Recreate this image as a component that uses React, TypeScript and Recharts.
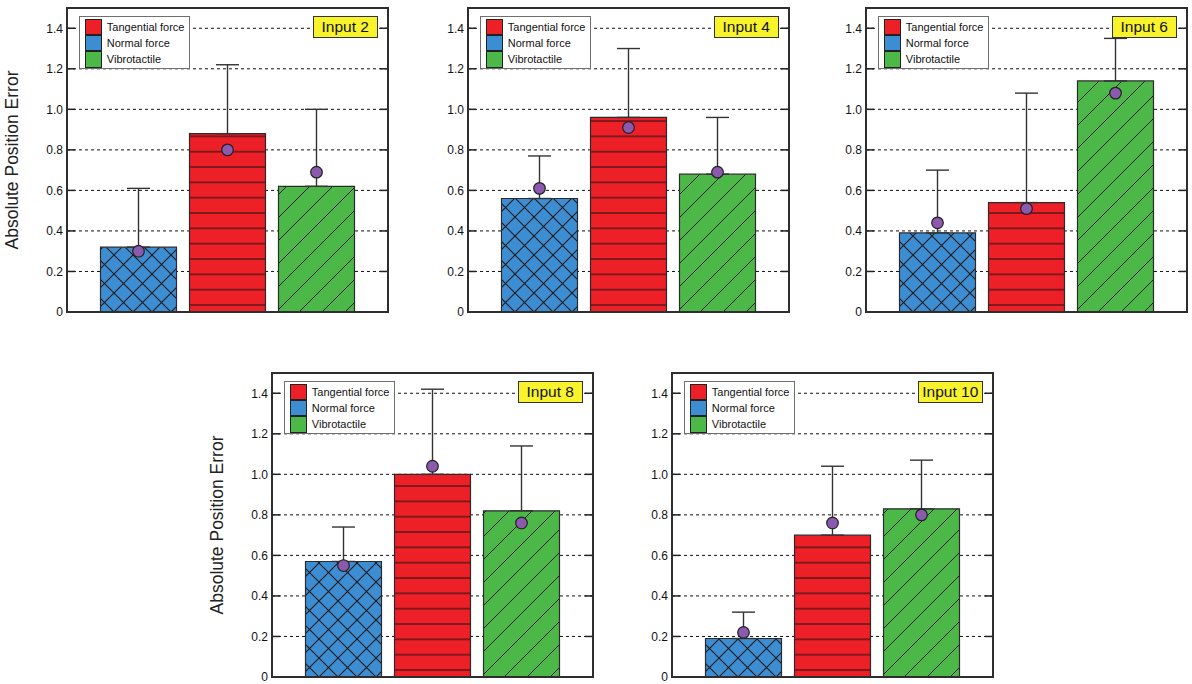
import React from 'react'
import {
  ComposedChart, Bar, Cell, ErrorBar, Line, XAxis, YAxis, CartesianGrid, Legend,
} from 'recharts'

// category order on the x axis
const categories = ['Normal force', 'Tangential force', 'Vibrotactile']
const legendNames = ['Tangential force', 'Normal force', 'Vibrotactile']
const yTicks = [0, 0.2, 0.4, 0.6, 0.8, 1.0, 1.2, 1.4]
const yTickLabels = ['0', '0.2', '0.4', '0.6', '0.8', '1.0', '1.2', '1.4']
const yTitle = 'Absolute Position Error'
const panelTitles = ['Input 2', 'Input 4', 'Input 6', 'Input 8', 'Input 10']

// bar height / purple marker / top of whisker, in category order
const input2Bars = [0.32, 0.88, 0.62]
const input2Dots = [0.30, 0.80, 0.69]
const input2Upper = [0.61, 1.22, 1.00]

const input4Bars = [0.56, 0.96, 0.68]
const input4Dots = [0.61, 0.91, 0.69]
const input4Upper = [0.77, 1.30, 0.96]

const input6Bars = [0.39, 0.54, 1.14]
const input6Dots = [0.44, 0.51, 1.08]
const input6Upper = [0.70, 1.08, 1.35]

const input8Bars = [0.57, 1.00, 0.82]
const input8Dots = [0.55, 1.04, 0.76]
const input8Upper = [0.74, 1.42, 1.14]

const input10Bars = [0.19, 0.70, 0.83]
const input10Dots = [0.22, 0.76, 0.80]
const input10Upper = [0.32, 1.04, 1.07]

const FONT = '"Liberation Sans", Arial, Helvetica, sans-serif'
const BLUE = '#3d8dd3'
const RED = '#ed1f27'
const GREEN = '#4cb848'
const PURPLE = '#8b59ad'
const INK = '#222'

const PLOT_W = 321
const PLOT_H = 304
const AXIS_W = 67
const M_TOP = 8
const M_RIGHT = 5
const M_BOTTOM = 8
const CHART_W = AXIS_W + PLOT_W + M_RIGHT
const CHART_H = M_TOP + PLOT_H + M_BOTTOM
const TICK_GAP = 4

const panels = [
  { title: panelTitles[0], bars: input2Bars, dots: input2Dots, upper: input2Upper, left: 0, top: 0, yTitle: true },
  { title: panelTitles[1], bars: input4Bars, dots: input4Dots, upper: input4Upper, left: 401, top: 0, yTitle: false },
  { title: panelTitles[2], bars: input6Bars, dots: input6Dots, upper: input6Upper, left: 799, top: 0, yTitle: false },
  { title: panelTitles[3], bars: input8Bars, dots: input8Dots, upper: input8Upper, left: 205, top: 365, yTitle: true },
  { title: panelTitles[4], bars: input10Bars, dots: input10Dots, upper: input10Upper, left: 605, top: 365, yTitle: false },
]

const legendColors = [RED, BLUE, GREEN]

function YTick(props: any) {
  const { x, y, payload } = props
  const label = yTickLabels[yTicks.indexOf(payload.value)] ?? String(payload.value)
  const ax = x + TICK_GAP
  return (
    <g>
      <text x={x} y={y} dy={4.3} textAnchor="end" fontSize={12} fill="#111" fontFamily={FONT}>
        {label}
      </text>
      {payload.value > 0 && (
        <>
          <line x1={ax} x2={ax + 8} y1={y} y2={y} stroke={INK} strokeWidth={1.5} />
          <line x1={ax + PLOT_W - 8} x2={ax + PLOT_W} y1={y} y2={y} stroke={INK} strokeWidth={1.5} />
        </>
      )}
    </g>
  )
}

function LegendBox() {
  return (
    <div
      style={{
        position: 'relative', width: 111, height: 53, boxSizing: 'border-box',
        background: '#fff', border: '1px solid #6f6f6f', fontFamily: FONT, fontSize: 11, color: '#111',
      }}
    >
      {legendNames.map((n, i) => (
        <div key={n} style={{ position: 'absolute', left: 5, top: 1.5 + i * 16.4, height: 16.4, display: 'flex', alignItems: 'center' }}>
          <span
            style={{
              display: 'inline-block', width: 16.5, height: 16.4, boxSizing: 'border-box',
              background: legendColors[i], border: `1.2px solid ${INK}`, marginRight: 5,
            }}
          />
          <span style={{ whiteSpace: 'nowrap' }}>{n}</span>
        </div>
      ))}
    </div>
  )
}

function Panel({ p, idx }: { p: typeof panels[number]; idx: number }) {
  const data = categories.map((c, i) => ({
    name: c,
    bar: p.bars[i],
    dot: p.dots[i],
    err: [0, +(p.upper[i] - p.bars[i]).toFixed(3)],
  }))
  const zeroY = M_TOP + PLOT_H
  const stripe = 15.33
  const fills = [`url(#hx-${idx})`, `url(#hz-${idx})`, `url(#dg-${idx})`]

  return (
    <div style={{ position: 'absolute', left: p.left, top: p.top, width: CHART_W, height: CHART_H }}>
      <ComposedChart
        width={CHART_W}
        height={CHART_H}
        data={data}
        margin={{ top: M_TOP, right: M_RIGHT, bottom: M_BOTTOM, left: 0 }}
        barCategoryGap={6.5}
      >
        <defs>
          <pattern id={`hx-${idx}`} patternUnits="userSpaceOnUse" width={19} height={19} x={0} y={zeroY}>
            <rect width={19} height={19} fill={BLUE} />
            <path d="M-2,-2 L21,21 M21,-2 L-2,21" stroke="#1a1a1a" strokeWidth={1.1} />
          </pattern>
          <pattern id={`hz-${idx}`} patternUnits="userSpaceOnUse" width={10} height={stripe} x={0} y={zeroY - 7 - stripe / 2}>
            <rect width={10} height={stripe} fill={RED} />
            <line x1={-1} x2={11} y1={stripe / 2} y2={stripe / 2} stroke="#3a1416" strokeWidth={1.2} />
          </pattern>
          <pattern id={`dg-${idx}`} patternUnits="userSpaceOnUse" width={23} height={23} x={0} y={zeroY}>
            <rect width={23} height={23} fill={GREEN} />
            <path d="M-2,25 L25,-2 M-6,6 L6,-6 M17,29 L29,17" stroke="#1a1a1a" strokeWidth={1} />
          </pattern>
        </defs>
        <CartesianGrid vertical={false} stroke="#111" strokeDasharray="3 3" strokeWidth={1} />
        <XAxis dataKey="name" type="category" hide padding={{ left: 27, right: 27 }} />
        <YAxis
          domain={[0, 1.5]}
          ticks={yTicks}
          interval={0}
          width={AXIS_W}
          axisLine={false}
          tickLine={false}
          tickSize={0}
          tickMargin={TICK_GAP}
          tick={<YTick />}
        />
        <Legend
          layout="vertical"
          align="center"
          verticalAlign="middle"
          wrapperStyle={{ left: AXIS_W + 12.3, top: M_TOP + 8, width: 'auto', height: 'auto' }}
          content={() => <LegendBox />}
        />
        <Bar dataKey="bar" isAnimationActive={false} stroke="#2b2b2b" strokeWidth={1.2}>
          {data.map((d, i) => (
            <Cell key={d.name} fill={fills[i]} stroke="#2b2b2b" strokeWidth={1.2} />
          ))}
          <ErrorBar dataKey="err" width={11.5} stroke="#333" strokeWidth={1.4} direction="y" />
        </Bar>
        <Line
          dataKey="dot"
          stroke="none"
          isAnimationActive={false}
          activeDot={false}
          dot={{ r: 5.8, fill: PURPLE, stroke: INK, strokeWidth: 1.2 }}
        />
      </ComposedChart>

      {/* plot frame */}
      <div
        style={{
          position: 'absolute', left: AXIS_W - 1, top: M_TOP - 1, width: PLOT_W + 2, height: PLOT_H + 2,
          border: '2px solid #2e2e2e', boxSizing: 'border-box', pointerEvents: 'none',
        }}
      />

      {/* panel label */}
      <div
        style={{
          position: 'absolute', left: AXIS_W + PLOT_W - 10 - 65.5, top: M_TOP + 7.5, width: 65.5, height: 22,
          boxSizing: 'border-box', background: '#f9f32c', border: '1.2px solid #333',
          fontFamily: FONT, fontSize: 15.5, color: '#111', textAlign: 'center', lineHeight: '20px',
        }}
      >
        {p.title}
      </div>

      {p.yTitle && (
        <div
          style={{
            position: 'absolute', left: AXIS_W - 55.3 - 120, top: M_TOP + PLOT_H / 2 - 11, width: 240, height: 22,
            lineHeight: '22px', textAlign: 'center', transform: 'rotate(-90deg)',
            fontFamily: FONT, fontSize: 17.5, color: '#222', whiteSpace: 'nowrap',
          }}
        >
          {yTitle}
        </div>
      )}
    </div>
  )
}

export default function App() {
  return (
    <div style={{ position: 'absolute', left: 0, top: 0, width: 1192, height: 684, background: '#fff', overflow: 'hidden' }}>
      {panels.map((p, i) => (
        <Panel key={p.title} p={p} idx={i} />
      ))}
    </div>
  )
}
